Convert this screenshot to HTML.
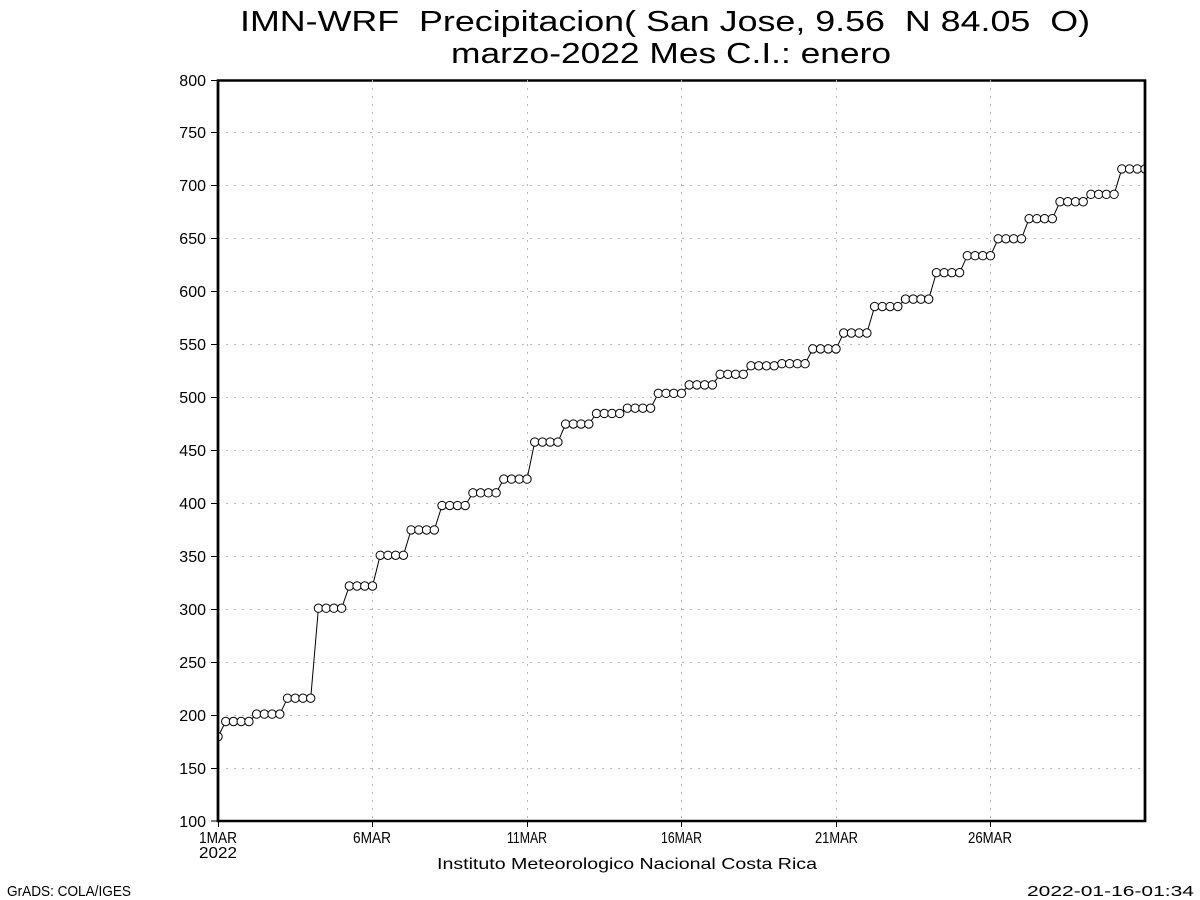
<!DOCTYPE html>
<html>
<head>
<meta charset="utf-8">
<style>
  html, body { margin:0; padding:0; background:#ffffff; }
  svg { display:block; }
  text { font-family: "Liberation Sans", "DejaVu Sans", sans-serif; fill:#000; white-space:pre; }
</style>
</head>
<body>
<svg width="1200" height="900" viewBox="0 0 1200 900" xmlns="http://www.w3.org/2000/svg">
  <defs>
    <clipPath id="plot">
      <rect x="218" y="80" width="927" height="741"/>
    </clipPath>
    <marker id="dot" markerUnits="userSpaceOnUse" markerWidth="12" markerHeight="12" refX="6" refY="6" overflow="visible">
      <circle cx="6" cy="6" r="4.2" fill="#ffffff" stroke="#000000" stroke-width="1"/>
    </marker>
  </defs>

  <rect x="0" y="0" width="1200" height="900" fill="#ffffff"/>

  <!-- Title -->
  <text x="240" y="31" font-size="29" fill="#111" textLength="850" lengthAdjust="spacingAndGlyphs">IMN-WRF  Precipitacion( San Jose, 9.56  N 84.05  O)</text>
  <text x="451" y="63" font-size="29" fill="#111" textLength="440" lengthAdjust="spacingAndGlyphs">marzo-2022 Mes C.I.: enero</text>

  <!-- Axes box -->
  <rect x="218" y="80.5" width="927" height="740.5" fill="none" stroke="#000" stroke-width="2.5"/>

  <!-- Grid lines -->
  <g stroke="#b8b8b8" stroke-width="1" stroke-dasharray="2 6" fill="none" shape-rendering="crispEdges">
    <line x1="218" y1="768.5" x2="1145" y2="768.5"/>
    <line x1="218" y1="715.5" x2="1145" y2="715.5"/>
    <line x1="218" y1="662.5" x2="1145" y2="662.5"/>
    <line x1="218" y1="609.5" x2="1145" y2="609.5"/>
    <line x1="218" y1="556.5" x2="1145" y2="556.5"/>
    <line x1="218" y1="503.5" x2="1145" y2="503.5"/>
    <line x1="218" y1="450.5" x2="1145" y2="450.5"/>
    <line x1="218" y1="397.5" x2="1145" y2="397.5"/>
    <line x1="218" y1="344.5" x2="1145" y2="344.5"/>
    <line x1="218" y1="291.5" x2="1145" y2="291.5"/>
    <line x1="218" y1="238.5" x2="1145" y2="238.5"/>
    <line x1="218" y1="185.5" x2="1145" y2="185.5"/>
    <line x1="218" y1="132.5" x2="1145" y2="132.5"/>
    <line x1="372.5" y1="80" x2="372.5" y2="821"/>
    <line x1="527.5" y1="80" x2="527.5" y2="821"/>
    <line x1="681.5" y1="80" x2="681.5" y2="821"/>
    <line x1="836.5" y1="80" x2="836.5" y2="821"/>
    <line x1="990.5" y1="80" x2="990.5" y2="821"/>
  </g>

  <!-- Ticks -->
  <g stroke="#000" stroke-width="1.2" shape-rendering="crispEdges">
    <line x1="211" y1="821" x2="218" y2="821"/>
    <line x1="211" y1="768.5" x2="218" y2="768.5"/>
    <line x1="211" y1="715.5" x2="218" y2="715.5"/>
    <line x1="211" y1="662.5" x2="218" y2="662.5"/>
    <line x1="211" y1="609.5" x2="218" y2="609.5"/>
    <line x1="211" y1="556.5" x2="218" y2="556.5"/>
    <line x1="211" y1="503.5" x2="218" y2="503.5"/>
    <line x1="211" y1="450.5" x2="218" y2="450.5"/>
    <line x1="211" y1="397.5" x2="218" y2="397.5"/>
    <line x1="211" y1="344.5" x2="218" y2="344.5"/>
    <line x1="211" y1="291.5" x2="218" y2="291.5"/>
    <line x1="211" y1="238.5" x2="218" y2="238.5"/>
    <line x1="211" y1="185.5" x2="218" y2="185.5"/>
    <line x1="211" y1="132.5" x2="218" y2="132.5"/>
    <line x1="211" y1="80.5" x2="218" y2="80.5"/>
    <line x1="218.5" y1="821" x2="218.5" y2="827"/>
    <line x1="372.5" y1="821" x2="372.5" y2="827"/>
    <line x1="527.5" y1="821" x2="527.5" y2="827"/>
    <line x1="681.5" y1="821" x2="681.5" y2="827"/>
    <line x1="836.5" y1="821" x2="836.5" y2="827"/>
    <line x1="990.5" y1="821" x2="990.5" y2="827"/>
  </g>

  <!-- Y tick labels -->
  <g font-size="16" text-anchor="end" fill="#111">
    <text x="206" y="827">100</text>
    <text x="206" y="774">150</text>
    <text x="206" y="721">200</text>
    <text x="206" y="668">250</text>
    <text x="206" y="615">300</text>
    <text x="206" y="562">350</text>
    <text x="206" y="509">400</text>
    <text x="206" y="456">450</text>
    <text x="206" y="403">500</text>
    <text x="206" y="350">550</text>
    <text x="206" y="297">600</text>
    <text x="206" y="244">650</text>
    <text x="206" y="191">700</text>
    <text x="206" y="138">750</text>
    <text x="206" y="86">800</text>
  </g>

  <!-- X tick labels -->
  <g font-size="16" fill="#111">
    <text x="199" y="843" textLength="38" lengthAdjust="spacingAndGlyphs">1MAR</text>
    <text x="199" y="858" textLength="38" lengthAdjust="spacingAndGlyphs">2022</text>
    <text x="353" y="843" textLength="38" lengthAdjust="spacingAndGlyphs">6MAR</text>
    <text x="507" y="843" textLength="40" lengthAdjust="spacingAndGlyphs">11MAR</text>
    <text x="661" y="843" textLength="41" lengthAdjust="spacingAndGlyphs">16MAR</text>
    <text x="815" y="843" textLength="43" lengthAdjust="spacingAndGlyphs">21MAR</text>
    <text x="968" y="843" textLength="44" lengthAdjust="spacingAndGlyphs">26MAR</text>
  </g>

  <!-- Series -->
  <g clip-path="url(#plot)">
    <polyline fill="none" stroke="#000" stroke-width="1"
      marker-start="url(#dot)" marker-mid="url(#dot)" marker-end="url(#dot)"
      points="218,736.74 225.73,721.49 233.45,721.49 241.18,721.49 248.9,721.49 256.63,714.08 264.35,714.08 272.08,714.08 279.8,714.08 287.53,698.21 295.25,698.21 302.98,698.21 310.7,698.21 318.43,608.23 326.15,608.23 333.88,608.23 341.6,608.23 349.33,586 357.05,586 364.78,586 372.5,586 380.23,555.3 387.95,555.3 395.68,555.3 403.4,555.3 411.13,529.89 418.85,529.89 426.58,529.89 434.3,529.89 442.03,505.55 449.75,505.55 457.48,505.55 465.2,505.55 472.93,492.84 480.65,492.84 488.38,492.84 496.1,492.84 503.83,479.08 511.55,479.08 519.28,479.08 527,479.08 534.73,442.03 542.45,442.03 550.18,442.03 557.9,442.03 565.63,424.04 573.35,424.04 581.08,424.04 588.8,424.04 596.53,413.45 604.25,413.45 611.98,413.45 619.7,413.45 627.43,408.16 635.15,408.16 642.88,408.16 650.6,408.16 658.33,393.34 666.05,393.34 673.78,393.34 681.5,393.34 689.23,384.87 696.95,384.87 704.68,384.87 712.4,384.87 720.13,374.28 727.85,374.28 735.58,374.28 743.3,374.28 751.03,365.81 758.75,365.81 766.48,365.81 774.2,365.81 781.93,363.7 789.65,363.7 797.38,363.7 805.1,363.7 812.83,348.88 820.55,348.88 828.28,348.88 836,348.88 843.73,333 851.45,333 859.18,333 866.9,333 874.63,306.53 882.35,306.53 890.08,306.53 897.8,306.53 905.53,299.12 913.25,299.12 920.98,299.12 928.7,299.12 936.43,272.66 944.15,272.66 951.88,272.66 959.6,272.66 967.33,255.72 975.05,255.72 982.78,255.72 990.5,255.72 998.23,238.79 1005.95,238.79 1013.68,238.79 1021.4,238.79 1029.13,218.67 1036.85,218.67 1044.58,218.67 1052.3,218.67 1060.03,201.74 1067.75,201.74 1075.48,201.74 1083.2,201.74 1090.93,194.33 1098.65,194.33 1106.38,194.33 1114.1,194.33 1121.83,168.92 1129.55,168.92 1137.28,168.92 1145,168.92"/>
  </g>

  <!-- Redraw left/right borders over clipped markers -->
  <line x1="218" y1="80" x2="218" y2="822" stroke="#000" stroke-width="2.5"/>
  <line x1="1145" y1="80" x2="1145" y2="822" stroke="#000" stroke-width="2.5"/>

  <!-- Footer texts -->
  <text x="437" y="869" font-size="16" fill="#111" textLength="380" lengthAdjust="spacingAndGlyphs">Instituto Meteorologico Nacional Costa Rica</text>
  <text x="7" y="896" font-size="15" fill="#111" textLength="124" lengthAdjust="spacingAndGlyphs">GrADS: COLA/IGES</text>
  <text x="1027" y="896" font-size="15" fill="#111" textLength="167" lengthAdjust="spacingAndGlyphs">2022-01-16-01:34</text>
</svg>
</body>
</html>
